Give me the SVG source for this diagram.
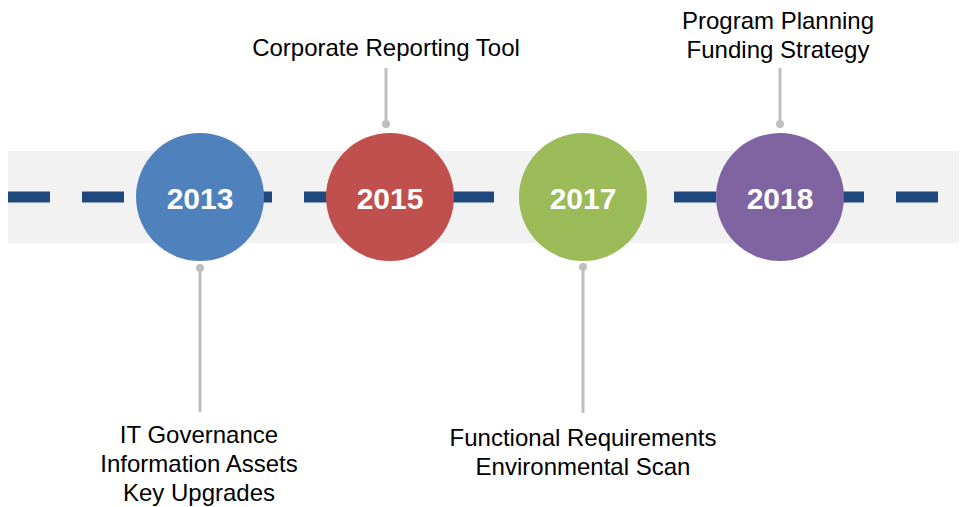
<svg xmlns="http://www.w3.org/2000/svg" width="961" height="507" viewBox="0 0 961 507">
<style>
.lbl{font-family:"Liberation Sans",Arial,sans-serif;font-size:24px;fill:#000;text-anchor:middle}
.yr{font-family:"Liberation Sans",Arial,sans-serif;font-size:30px;font-weight:bold;fill:#fff;text-anchor:middle}
.conn{stroke:#bfbfbf;stroke-width:3;fill:none}
.dot{fill:#bfbfbf}
</style>
<rect x="8" y="151" width="951" height="92" fill="#f2f2f2"/>
<line x1="8" y1="197" x2="938" y2="197" stroke="#1f497d" stroke-width="11" stroke-dasharray="42 32"/>
<g id="connectors">
<line class="conn" x1="200" y1="268" x2="200" y2="412"/><circle class="dot" cx="200" cy="268" r="4"/>
<line class="conn" x1="386" y1="68" x2="386" y2="124"/><circle class="dot" cx="386" cy="124" r="4"/>
<line class="conn" x1="583" y1="267" x2="583" y2="413"/><circle class="dot" cx="583" cy="267" r="4"/>
<line class="conn" x1="780" y1="68" x2="780" y2="124"/><circle class="dot" cx="780" cy="124" r="4"/>
</g>
<g id="n2013"><circle cx="200" cy="197" r="64" fill="#4f81bd"/><text class="yr" x="200" y="209">2013</text></g>
<g id="n2015"><circle cx="390" cy="197" r="64" fill="#c0504d"/><text class="yr" x="390" y="209">2015</text></g>
<g id="n2017"><circle cx="583" cy="197" r="64" fill="#9bbb59"/><text class="yr" x="583" y="209">2017</text></g>
<g id="n2018"><circle cx="780" cy="197" r="64" fill="#8064a2"/><text class="yr" x="780" y="209">2018</text></g>
<g id="t2013"><text class="lbl" x="199" y="443">IT Governance</text><text class="lbl" x="199" y="472">Information Assets</text><text class="lbl" x="199" y="501">Key Upgrades</text></g>
<g id="t2015"><text class="lbl" x="386" y="56">Corporate Reporting Tool</text></g>
<g id="t2017"><text class="lbl" x="583" y="446">Functional Requirements</text><text class="lbl" x="583" y="475">Environmental Scan</text></g>
<g id="t2018"><text class="lbl" x="778" y="29">Program Planning</text><text class="lbl" x="778" y="58">Funding Strategy</text></g>
</svg>
